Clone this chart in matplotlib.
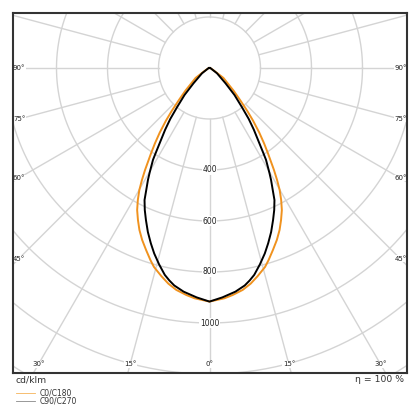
"""
Polar luminous intensity diagram (cd/klm), C0/C180 and C90/C270 planes
"""
import matplotlib
matplotlib.use('Agg')
import matplotlib.pyplot as plt
import numpy as np

# intensity readings in cd/klm, gamma measured from nadir (deg)
gamma_c0 = [0, 3.7, 5.8, 8.5, 10.8, 13.0, 15.6, 17.1, 19.2, 21.4, 23.4, 25.2,
            27.0, 28.5, 29.9, 31.1, 32.3, 34.4, 35.9, 37.6, 39.6, 41.3, 43.6,
            46.7, 54.5, 59, 75, 90]
int_c0 = [916, 905, 895, 880, 861, 838, 810, 788, 756, 724, 692, 659,
          625, 589, 552, 513, 473, 406, 365, 320, 268, 225, 175,
          130, 67, 23, 5, 0]

gamma_c90 = [0, 3.2, 6.6, 9.2, 10.7, 12.2, 14.4, 16.6, 18.5, 20.6, 22.7, 24.5,
             26.2, 27.4, 28.8, 29.7, 31.6, 32.3, 34.0, 35.7, 37.6, 39.6, 42.8,
             46.3, 54.8, 75, 90]
int_c90 = [916, 901, 883, 864, 848, 830, 795, 759, 725, 687, 646, 612,
           577, 539, 501, 475, 423, 396, 340, 298, 252, 200, 144,
           87, 36, 5, 0]

ring_values = [200, 400, 600, 800, 1000, 1200, 1400, 1600]
ring_labels = [400, 600, 800, 1000]
side_angles = [90, 75, 60, 45]
bottom_angles = [30, 15, 0]
legend_names = ['C0/C180', 'C90/C270']

ORANGE = '#f0921e'
GRID = '#d4d4d4'
S = 0.255  # pixels per cd/klm


def mirror(gammas, values):
    g = np.array(gammas, dtype=float)
    v = np.array(values, dtype=float)
    g_full = np.concatenate([-g[::-1], g[1:]])
    v_full = np.concatenate([v[::-1], v[1:]])
    rad = np.radians(g_full)
    return v_full * np.sin(rad), -v_full * np.cos(rad)


fig = plt.figure(figsize=(4.2, 4.2), dpi=100)
W = H = 420
left, right, top, bottom = 13, 407, 13, 372.5
cx, cy = 209.5, 68
ax = fig.add_axes([left / W, (H - bottom) / H, (right - left) / W, (bottom - top) / H])
xmin, xmax = -(cx - left) / S, (right - cx) / S
ymin, ymax = -(bottom - cy) / S, (cy - top) / S
ax.set_xlim(xmin, xmax)
ax.set_ylim(ymin, ymax)
ax.set_xticks([])
ax.set_yticks([])
for sp in ax.spines.values():
    sp.set_color('#333333')
    sp.set_linewidth(1.5)
    sp.set_zorder(10)

# grid rings and radial lines
t = np.linspace(0, 2 * np.pi, 400)
for r in ring_values:
    ax.plot(r * np.cos(t), r * np.sin(t), color=GRID, lw=1.0, zorder=1)
for a in range(0, 360, 15):
    ar = np.radians(a)
    ax.plot([200 * np.sin(ar), 2500 * np.sin(ar)], [-200 * np.cos(ar), -2500 * np.cos(ar)],
            color=GRID, lw=1.0, zorder=1)

# ring labels
for r in ring_labels:
    ax.text(0, -r, str(r), fontsize=5.5, ha='center', va='center', color='#222222',
            bbox=dict(facecolor='white', edgecolor='none', pad=0.3), zorder=2)

# angle labels on frame
inset_side = 6 / S
inset_bottom = 8 / S
for a in side_angles:
    ya = -(abs(xmin) - inset_side) / np.tan(np.radians(a)) if a != 90 else 0
    for xs, ha in [(xmin, 'left'), (xmax, 'right')]:
        ax.text(xs, ya, f'{a}°', fontsize=5, ha=ha, va='center', color='#222222',
                bbox=dict(facecolor='white', edgecolor='none', pad=0.2), zorder=3)
for a in bottom_angles:
    yb = ymin + inset_bottom
    xa = abs(yb) * np.tan(np.radians(a))
    for xs in ([xa, -xa] if a != 0 else [0]):
        ax.text(xs, yb, f'{a}°', fontsize=5, ha='center', va='center', color='#222222',
                bbox=dict(facecolor='white', edgecolor='none', pad=0.2), zorder=3)

# intensity curves
x0, y0 = mirror(gamma_c0, int_c0)
ax.plot(x0, y0, color=ORANGE, lw=1.4, zorder=4, solid_joinstyle='round')
x9, y9 = mirror(gamma_c90, int_c90)
ax.plot(x9, y9, color='black', lw=1.4, zorder=5, solid_joinstyle='round')

# captions and legend
fig.text(16 / W, 1 - 380 / H, 'cd/klm', fontsize=6.7, ha='left', va='center', color='#333333')
fig.text(404 / W, 1 - 380 / H, 'η = 100 %', fontsize=6.7, ha='right', va='center', color='#333333')
for name, col, yl in zip(legend_names, ['#f5b35a', '#888888'], [392.7, 400.7]):
    fig.add_artist(plt.Line2D([16 / W, 35 / W], [1 - yl / H, 1 - yl / H], color=col, lw=0.6))
    fig.text(40 / W, 1 - yl / H, name, fontsize=5.5, ha='left', va='center', color='#333333')

fig.savefig('out.png', dpi=100, facecolor='white')
